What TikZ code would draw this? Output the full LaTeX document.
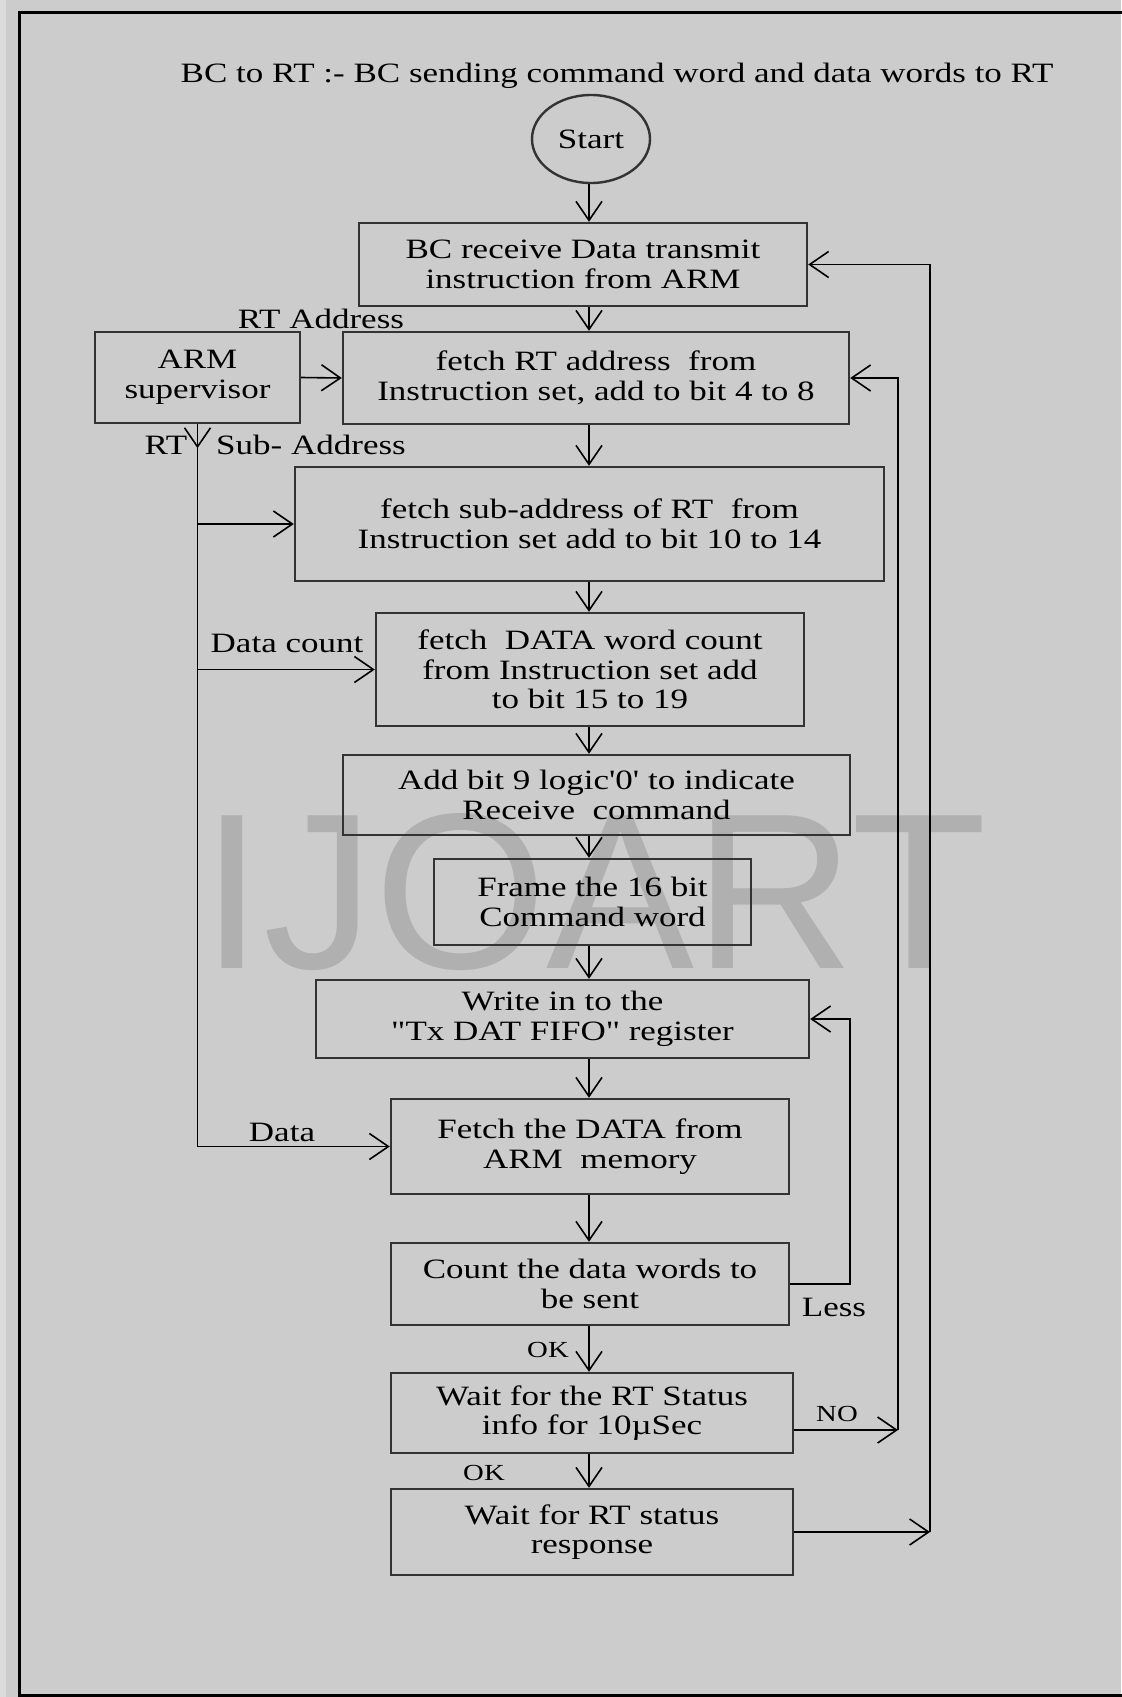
\documentclass[tikz,border=0pt]{standalone}
\usepackage{fontspec}
\newfontfamily\flowfont[FakeStretch=1.25]{Liberation Serif}
\newfontfamily\markfont{Liberation Sans}
\usetikzlibrary{shapes.geometric,arrows.meta}
\definecolor{bggray}{HTML}{CCCCCC}
\definecolor{edgegray}{HTML}{DCDCDC}
\definecolor{markgray}{HTML}{B0B0B0}
\definecolor{boxline}{HTML}{333333}

\begin{document}
\begin{tikzpicture}[x=0.5pt,y=-0.5pt]
        \tikzstyle{box}=[draw=boxline, line width=1.2pt, rectangle, align=center, inner sep=0pt, font=\flowfont\fontsize{14}{14.8}\selectfont]
        \tikzstyle{lbl}=[inner sep=0pt, font=\flowfont\fontsize{14}{14.8}\selectfont]
        \tikzstyle{small}=[inner sep=0pt, font=\flowfont\fontsize{11.5}{12}\selectfont]
        \tikzstyle{arr}=[-{Straight Barb[length=9.5pt,width=13pt]}, line width=0.8pt]
        \tikzstyle{wire}=[line width=0.8pt]
        % page and frame
        \fill[bggray] (0,0) rectangle (1121,1697);
        \fill[edgegray] (0,0) rectangle (6,1697);
        \useasboundingbox (0,0) rectangle (1121,1697);
        \draw[line width=1.5pt] (1130,12) -- (19,12) -- (19,1695) -- (1130,1695);
        \node[inner sep=0pt, text=markgray, font=\markfont\fontsize{111}{111}\selectfont] (mark) at (594,892) {IJOART};

        \node[lbl, anchor=base] (title) at (617,82) {BC to RT :- BC sending command word and data words to RT};
        \node[box, ellipse, minimum width=59pt, minimum height=44pt] (start) at (591,139) {Start};
        \node[box, minimum width=224pt, minimum height=41.5pt] (b1) at (583,264.5) {BC receive Data transmit\\instruction from ARM};
        \node[box, minimum width=102.5pt, minimum height=45.5pt] (arm) at (197.5,377.5) {ARM\\supervisor};
        \node[box, minimum width=253pt, minimum height=46pt] (b2) at (596,378) {fetch RT address\ \ from\\Instruction set, add to bit 4 to 8};
        \node[box, minimum width=294.5pt, minimum height=57pt] (b3) at (589.5,524) {fetch sub-address of RT\ \ from\\Instruction set add to bit 10 to 14};
        \node[box, minimum width=214pt, minimum height=56.5pt] (b4) at (590,669.5) {fetch\ \ DATA word count\\from Instruction set add\\to bit 15 to 19};
        \node[box, minimum width=253.5pt, minimum height=40pt] (b5) at (596.5,795) {Add bit 9 logic'0' to indicate\\Receive\ \ command};
        \node[box, minimum width=158.5pt, minimum height=43pt] (b6) at (592.5,902) {Frame the 16 bit\\Command word};
        \node[box, minimum width=246.5pt, minimum height=39pt] (b7) at (562.5,1019) {Write in to the\\"Tx DAT FIFO" register};
        \node[box, minimum width=199pt, minimum height=47.5pt] (b8) at (590,1146.5) {Fetch the DATA from\\ARM\ \ memory};
        \node[box, minimum width=199pt, minimum height=41pt] (b9) at (590,1284) {Count the data words to\\be sent};
        \node[box, minimum width=201pt, minimum height=40pt] (b10) at (592,1413) {Wait for the RT Status\\info for 10µSec};
        \node[box, minimum width=201pt, minimum height=43pt] (b11) at (592,1532) {Wait for RT status\\response};

        % labels
        \node[lbl] (rtaddr) at (321,319) {RT Address};
        \node[lbl] (rt) at (166,445) {RT};
        \node[lbl] (subaddr) at (311,445) {Sub- Address};
        \node[lbl] (dcount) at (287,643) {Data count};
        \node[lbl] (data) at (282,1132) {Data};
        \node[lbl] (less) at (834,1307) {Less};
        \node[small] (ok1) at (548,1350) {OK};
        \node[small] (ok2) at (484,1473) {OK};
        \node[small] (no) at (837,1414) {NO};

        % main flow
        \coordinate (spine) at (589,0);
        \draw[arr] (start.south -| spine) -- (b1.north -| spine);
        \draw[arr] (b1.south -| spine) -- (b2.north -| spine);
        \draw[arr] (b2.south -| spine) -- (b3.north -| spine);
        \draw[arr] (b3.south -| spine) -- (b4.north -| spine);
        \draw[arr] (b4.south -| spine) -- (b5.north -| spine);
        \draw[arr] (b5.south -| spine) -- (b6.north -| spine);
        \draw[arr] (b6.south -| spine) -- (b7.north -| spine);
        \draw[arr] (b7.south -| spine) -- (b8.north -| spine);
        \draw[arr] (b8.south -| spine) -- (b9.north -| spine);
        \draw[arr] (b9.south -| spine) -- (b10.north -| spine);
        \draw[arr] (b10.south -| spine) -- (b11.north -| spine);

        % ARM supervisor bus
        \draw[arr] (arm.east) -- (b2.west);
        \draw[arr] (arm.south) -- ++(0,24);
        \draw[wire] (arm.south) -- (arm.south |- b8.west);
        \draw[arr] (arm.south |- b3.west) -- (b3.west);
        \draw[arr] (arm.south |- b4.west) -- (b4.west);
        \draw[arr] (arm.south |- b8.west) -- (b8.west);

        % loops on the right
        \coordinate (lessx) at (850,0);
        \coordinate (nopt) at (898,1430);
        \coordinate (backx) at (930,0);
        \draw[arr] (b9.east) -- (b9.east -| lessx) -- (b7.east -| lessx) -- (b7.east);
        \draw[arr] (b10.east |- nopt) -- (nopt);
        \draw[arr] (nopt) -- (nopt |- b2.east) -- (b2.east);
        \draw[arr] (b11.east) -- (b11.east -| backx);
        \draw[arr] (b11.east -| backx) -- (b1.east -| backx) -- (b1.east);
\end{tikzpicture}
\end{document}
